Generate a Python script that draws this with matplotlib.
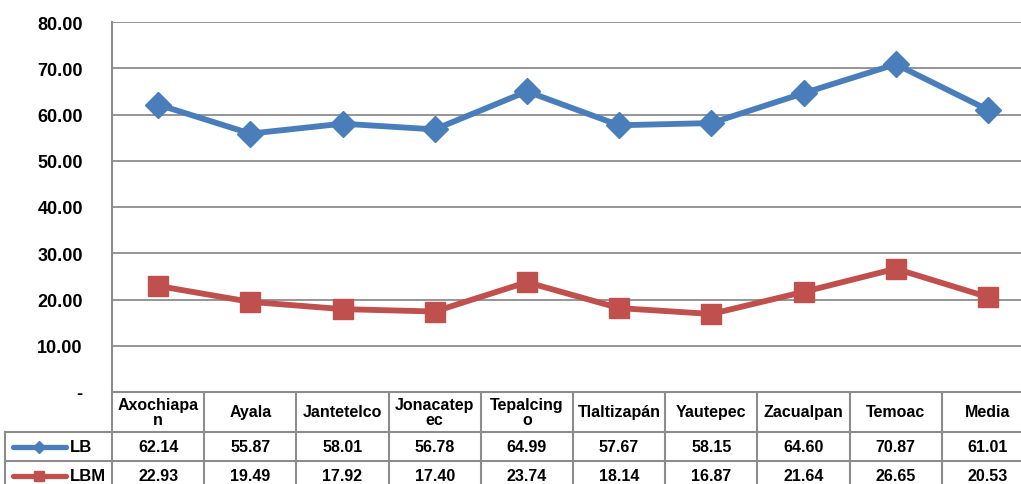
import numpy as np
import matplotlib.pyplot as plt

plt.rcParams["font.family"] = ["Liberation Sans", "DejaVu Sans"]

# Data
municipios = ["Axochiapa\nn", "Ayala", "Jantetelco", "Jonacatep\nec", "Tepalcing\no",
              "Tlaltizapán", "Yautepec", "Zacualpan", "Temoac", "Media"]
lb = [62.14, 55.87, 58.01, 56.78, 64.99, 57.67, 58.15, 64.60, 70.87, 61.01]
lbm = [22.93, 19.49, 17.92, 17.40, 23.74, 18.14, 16.87, 21.64, 26.65, 20.53]
series_names = ["LB", "LBM"]
yticks = [0, 10, 20, 30, 40, 50, 60, 70, 80]

blue = "#4a7ebb"
red = "#c0504d"
grid_c = "#8c8c8c"

W, H = 1021, 485
fig = plt.figure(figsize=(W / 100, H / 100), dpi=100)

# plot area in pixels (right edge falls outside the picture, as in the original)
x0, x1 = 112, 1034
ytop, ybot = 23, 393
ax = fig.add_axes([x0 / W, (H - ybot) / H, (x1 - x0) / W, (ybot - ytop) / H])

n = len(municipios)
x = np.arange(n)
ax.set_xlim(-0.5, n - 0.5)
ax.set_ylim(0, 80)

ax.plot(x, lb, color=blue, lw=4.2, marker="D", ms=13, mfc=blue, mec=blue, zorder=3)
ax.plot(x, lbm, color=red, lw=4.2, marker="s", ms=14, mfc=red, mec=red, zorder=3)

# grid and axes
ax.set_yticks(yticks)
ax.set_yticklabels(["-" if v == 0 else f"{v:.2f}" for v in yticks],
                   fontsize=13, fontweight="bold")
ax.tick_params(axis="y", length=0, pad=21)
ax.set_xticks([])
ax.grid(axis="y", color=grid_c, lw=1.3)
ax.set_axisbelow(True)
for s in ["top", "right", "bottom"]:
    ax.spines[s].set_visible(False)
ax.spines["left"].set_color(grid_c)
ax.spines["left"].set_linewidth(1.5)

# data table below the plot, drawn in pixel coordinates
rows_y = [393, 433, 462, 491]
edges = [x0 + (x1 - x0) / n * i for i in range(n + 1)]
lw_t = 1.5


def hline(xa, xb, yp):
    fig.add_artist(plt.Line2D([xa, xb], [H - yp, H - yp], transform=None,
                              color=grid_c, lw=lw_t))


def vline(xp, ya, yb):
    fig.add_artist(plt.Line2D([xp, xp], [H - ya, H - yb], transform=None,
                              color=grid_c, lw=lw_t))


for e in edges:
    vline(e, rows_y[0], rows_y[3])
vline(5, rows_y[1], rows_y[3])
hline(x0, x1, rows_y[0])
for ry in rows_y[1:3]:
    hline(5, x1, ry)

# header
for i, name in enumerate(municipios):
    cx = (edges[i] + edges[i + 1]) / 2
    fig.text(cx / W, (H - (rows_y[0] + rows_y[1]) / 2) / H, name, ha="center",
             va="center", fontsize=11.5, fontweight="bold", linespacing=1.0)

# values and legend keys
for r, (vals, col, mk, name) in enumerate(zip([lb, lbm], [blue, red], ["D", "s"], series_names)):
    cy = (rows_y[r + 1] + rows_y[r + 2]) / 2
    for i, v in enumerate(vals):
        cx = (edges[i] + edges[i + 1]) / 2
        fig.text(cx / W, (H - cy) / H, f"{v:.2f}", ha="center", va="center",
                 fontsize=11.5, fontweight="bold")
    fig.add_artist(plt.Line2D([13, 66], [H - cy, H - cy], transform=None,
                              color=col, lw=3.8, solid_capstyle="round"))
    fig.add_artist(plt.Line2D([39], [H - cy], transform=None, color=col,
                              marker=mk, ms=6 if mk == "D" else 7, mfc=col, mec=col))
    fig.text(70 / W, (H - cy) / H, name, ha="left", va="center",
             fontsize=12, fontweight="bold")

plt.savefig("out.png", dpi=100)
